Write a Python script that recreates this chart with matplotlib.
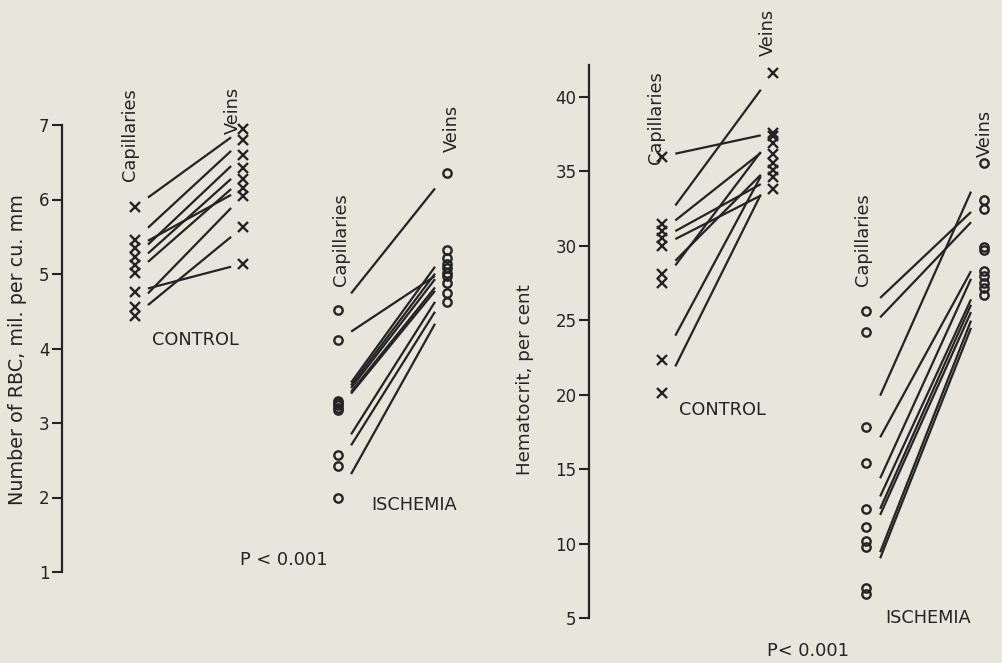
import matplotlib
matplotlib.use('Agg')
import matplotlib.pyplot as plt
import numpy as np

# ---- data ----
# Number of RBC, mil. per cu. mm
rbc_control_cap = [5.90, 5.46, 5.35, 5.23, 5.12, 5.01, 4.76, 4.56, 4.44]
rbc_control_vein = [6.95, 6.80, 6.15, 6.60, 6.42, 6.28, 5.14, 6.05, 5.63]
rbc_isch_cap = [4.52, 4.11, 3.30, 3.27, 3.24, 3.20, 3.18, 2.57, 2.42, 2.00]
rbc_isch_vein = [6.35, 5.08, 5.32, 5.22, 5.14, 5.02, 4.97, 4.88, 4.75, 4.62]

# Hematocrit, per cent
hct_control_cap = [36.0, 31.5, 31.0, 30.5, 30.0, 28.1, 27.5, 22.3, 20.1]
hct_control_vein = [37.6, 41.6, 36.9, 34.6, 33.8, 35.6, 37.4, 36.2, 35.1]
hct_isch_cap = [25.6, 24.2, 17.8, 15.4, 12.3, 11.1, 10.2, 9.8, 7.0, 6.6]
hct_isch_vein = [33.1, 32.5, 35.6, 29.9, 29.7, 28.3, 28.0, 27.5, 27.2, 26.7]

rbc_ticks = [1, 2, 3, 4, 5, 6, 7]
hct_ticks = [5, 10, 15, 20, 25, 30, 35, 40]

# ---- style / layout ----
W, H = 1002, 663
BG = '#e7e5dc'
INK = '#242424'
FONT = 'DejaVu Sans'

fig = plt.figure(figsize=(W / 100, H / 100), dpi=100, facecolor=BG)


def fx(x):
    return x / W


def fy(y):
    return 1 - y / H


def make_axes(x_spine, y_top, y_bottom, x_right, ylim, ticks):
    ax = fig.add_axes([fx(x_spine), fy(y_bottom), fx(x_right - x_spine), (y_bottom - y_top) / H])
    ax.set_facecolor('none')
    ax.set_xlim(0, (x_right - x_spine) / 100)
    ax.set_ylim(*ylim)
    for s in ['top', 'right', 'bottom']:
        ax.spines[s].set_visible(False)
    ax.spines['left'].set_linewidth(1.6)
    ax.spines['left'].set_color(INK)
    ax.set_xticks([])
    ax.set_yticks(ticks)
    ax.set_yticklabels([str(t) for t in ticks])
    ax.tick_params(axis='y', direction='out', length=7, width=1.5, color=INK,
                   labelsize=12, labelcolor=INK, pad=2)
    for lab in ax.get_yticklabels():
        lab.set_family(FONT)
    return ax


def draw_group(ax, x0, x1, caps, veins, marker):
    caps = np.asarray(caps, float)
    veins = np.asarray(veins, float)
    g0, g1 = 0.12, 0.89
    for c, v in zip(caps, veins):
        ax.plot([x0 + g0 * (x1 - x0), x0 + g1 * (x1 - x0)],
                [c + g0 * (v - c), c + g1 * (v - c)],
                color=INK, lw=1.6, solid_capstyle='butt', clip_on=False)
    kw = dict(ls='none', marker=marker, ms=6 if marker == 'o' else 6.5,
              mew=1.7, color=INK, mfc='none', clip_on=False)
    ax.plot(np.full(len(caps), x0), caps, **kw)
    ax.plot(np.full(len(veins), x1), veins, **kw)


def label(x, y, s, rot=0, size=12.8):
    fig.text(fx(x), fy(y), s, rotation=rot, ha='center', va='center',
             fontsize=size, color=INK, family=FONT)


# left panel: RBC
ax1 = make_axes(62, 125, 572, 480, (1, 7), rbc_ticks)
draw_group(ax1, 0.73, 1.81, rbc_control_cap, rbc_control_vein, 'x')
draw_group(ax1, 2.76, 3.85, rbc_isch_cap, rbc_isch_vein, 'o')

# right panel: hematocrit
ax2 = make_axes(589, 65, 618, 1000, (5, 42.15), hct_ticks)
draw_group(ax2, 0.73, 1.84, hct_control_cap, hct_control_vein, 'x')
draw_group(ax2, 2.77, 3.95, hct_isch_cap, hct_isch_vein, 'o')

# axis titles
label(18, 350, 'Number of RBC, mil. per cu. mm', rot=90, size=13.8)
label(525, 380, 'Hematocrit, per cent', rot=90, size=13.2)

# group annotations, left
label(130, 135, 'Capillaries', rot=90)
label(233, 110, 'Veins', rot=90)
label(195, 340, 'CONTROL')
label(341, 240, 'Capillaries', rot=90)
label(452, 128, 'Veins', rot=90)
label(414, 505, 'ISCHEMIA')
label(284, 560, 'P < 0.001')

# group annotations, right
label(656, 118, 'Capillaries', rot=90)
label(768, 32, 'Veins', rot=90)
label(722, 410, 'CONTROL')
label(863, 240, 'Capillaries', rot=90)
label(985, 133, 'Veins', rot=90)
label(928, 618, 'ISCHEMIA')
label(808, 651, 'P< 0.001')

fig.savefig('out.png', dpi=100, facecolor=BG)
